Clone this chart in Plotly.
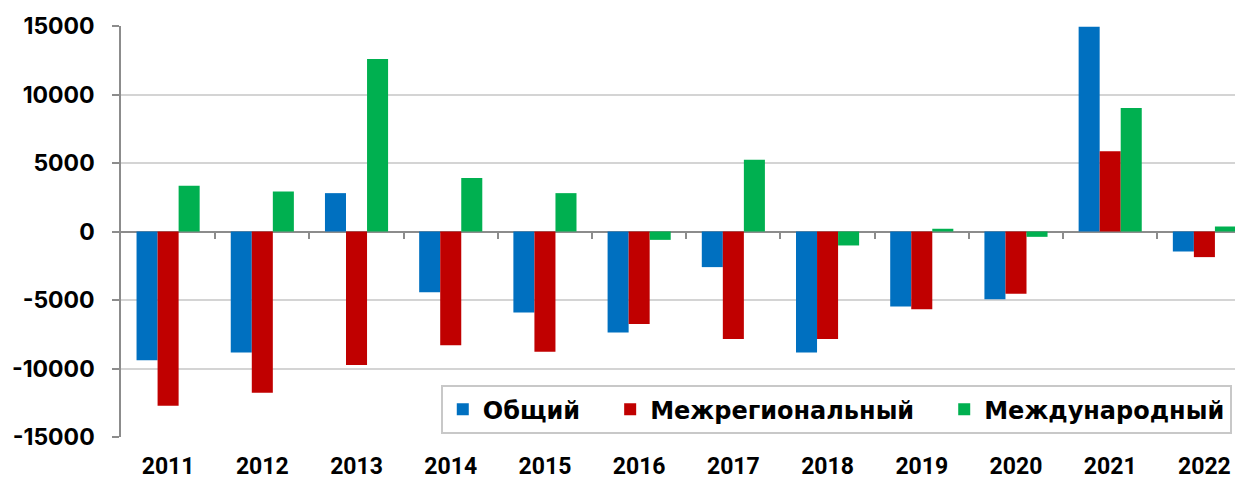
import plotly.graph_objects as go

years = ["2011", "2012", "2013", "2014", "2015", "2016", "2017", "2018", "2019", "2020", "2021", "2022"]
total = [-9400, -8840, 2800, -4430, -5920, -7380, -2600, -8840, -5480, -4940, 14940, -1460]
interregional = [-12720, -11770, -9740, -8300, -8770, -6750, -7840, -7840, -5680, -4550, 5850, -1870]
international = [3340, 2920, 12600, 3900, 2800, -610, 5240, -1020, 200, -390, 9020, 365]

series_names = ["Общий", "Межрегиональный", "Международный"]
series_colors = ["#0070C0", "#C00000", "#00B050"]
y_ticks = [-15000, -10000, -5000, 0, 5000, 10000, 15000]
y_tick_labels = ["-15000", "-10000", "-5000", "0", "5000", "10000", "15000"]

# non-breaking spaces widen the gaps between legend entries as in the reference
legend_pad = ["\u00a0\u00a0\u00a0", "\u00a0\u00a0\u00a0", ""]

fig = go.Figure()
for name, pad, vals, col in zip(series_names, legend_pad, [total, interregional, international], series_colors):
    fig.add_trace(go.Bar(x=years, y=vals, name=name + pad, marker=dict(color=col, line=dict(width=0))))

# helper axis to draw tick marks on the zero line between categories
fig.add_trace(go.Scatter(x=[None], y=[None], xaxis="x2", showlegend=False, hoverinfo="skip"))

# the page body adds an 8 px offset; the figure is sized so the plot area matches the reference
x_end = (1243 - 121.1) / 94.2 - 0.5
x_font = dict(family="Roboto", size=23, color="black", weight=700)
y_font = dict(family="Inter", size=23, color="black", weight=700)

fig.update_layout(
    width=1235, height=474,
    margin=dict(l=113, r=0, t=18, b=45, autoexpand=False),
    paper_bgcolor="white", plot_bgcolor="white",
    barmode="group", bargap=0.33, bargroupgap=0,
    font=x_font,
    xaxis=dict(
        type="category", range=[-0.5, x_end], automargin=False,
        showgrid=False, showline=False, ticks="", zeroline=False,
        tickfont=x_font, ticklabelstandoff=13,
    ),
    xaxis2=dict(
        overlaying="x", anchor="free", position=0.5, type="linear", automargin=False,
        range=[-0.5, x_end], showgrid=False, showline=False, zeroline=False,
        showticklabels=False, ticks="outside", ticklen=6, tickwidth=1.5,
        tickcolor="#8c8c8c", tickvals=[i + 0.5 for i in range(11)],
    ),
    yaxis=dict(
        range=[-15000, 15000], tickvals=y_ticks, ticktext=y_tick_labels, automargin=False,
        showgrid=True, gridcolor="#d4d4d4", gridwidth=1.5,
        zeroline=True, zerolinecolor="#8c8c8c", zerolinewidth=1.5,
        showline=True, linecolor="#8c8c8c", linewidth=1.5,
        ticks="outside", ticklen=7, tickcolor="#8c8c8c", tickwidth=1.5,
        tickfont=y_font, ticklabelstandoff=13,
    ),
    legend=dict(
        orientation="h", x=0.99, xanchor="right", y=0.126, yanchor="top",
        bgcolor="white", bordercolor="#c8c8c8", borderwidth=2,
        font=dict(family="DejaVu Sans", size=24, color="black", weight=700),
        itemwidth=30, tracegroupgap=0,
    ),
    showlegend=True,
)

fig.write_html("out.html")
